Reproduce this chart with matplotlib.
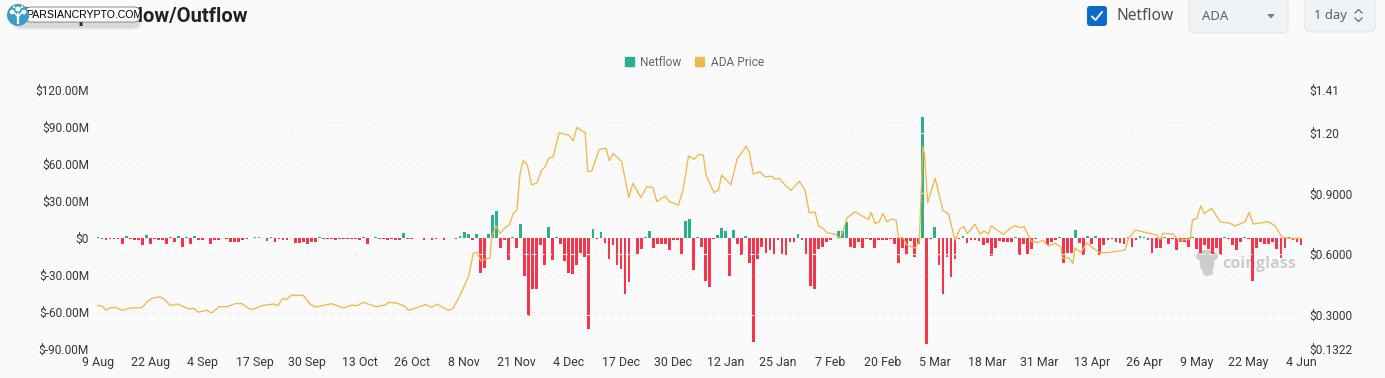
import numpy as np
import matplotlib
matplotlib.use("Agg")
import matplotlib.pyplot as plt
from matplotlib.patches import FancyBboxPatch, Rectangle, Circle, Ellipse, Patch, Polygon

W, H = 1385, 378

tick_dates = ["9 Aug", "22 Aug", "4 Sep", "17 Sep", "30 Sep", "13 Oct", "26 Oct", "8 Nov",
              "21 Nov", "4 Dec", "17 Dec", "30 Dec", "12 Jan", "25 Jan", "7 Feb", "20 Feb",
              "5 Mar", "18 Mar", "31 Mar", "13 Apr", "26 Apr", "9 May", "22 May", "4 Jun"]
left_ticks = [120, 90, 60, 30, 0, -30, -60, -90]
left_labels = ["$120.00M", "$90.00M", "$60.00M", "$30.00M", "$0", "$-30.00M", "$-60.00M", "$-90.00M"]
right_ticks = [1.41, 1.20, 0.90, 0.60, 0.30, 0.1322]
right_labels = ["$1.41", "$1.20", "$0.9000", "$0.6000", "$0.3000", "$0.1322"]

# daily netflow in $M
netflow = [
    1, -0.5, -1.5, -1, -0.5, -0.5, -4.5, 2, -1, -1.5,
    -2, -6, 2.5, -4.5, -1, -1.5, -1.5, -5, 1, -3,
    2, -7, 0.5, -4.5, 1.5, -2, -2, 0.3, -5, -2,
    -2, 0.3, -1, -3, -3, -3.5, -2, -1, 0.2, 1,
    1, -0.3, -2.5, 1, -3, -0.5, -2, -2, 0.3, -4,
    -4, -3, -5, -3.5, -3, 0.8, -1, -1, -0.5, -1.5,
    -0.5, -0.5, -1, -1, -1, -1.5, 1, -4.5, 0.3, 1,
    -0.5, -1, -1.5, -0.5, -2, -2, 4, -1, -0.5, -0.3,
    -0.3, -1.5, -0.3, -1.5, -1, -0.3, -1.5, 0.3, 0.3, -1,
    2, 5, 3.5, -1.5, 3, -28, -24, 3.5, 18.4, 22,
    -8, -1.5, -18, 1, -8, 11.5, -31, -63, -41, -41,
    -6, -22, 9, -18, 1, -5, -19, -28, -29, -22,
    -12, -15, -74, 7, -0.5, 4.5, -4, -17, -6, -22,
    -25, -45, -36, -0.3, -13, -9, 1, 5.5, -8, -5,
    -4.5, -4.5, -10, -1.5, -1.5, -13, 13.5, 15, -26, 0.8,
    -7, -35, -40, -0.8, 2.5, 8, 5.5, -31, 6.5, -5,
    -14, 1.5, -20, -84, -17, -7, -12, -10, -14, -2,
    -14, -13.5, -3, -3.5, 3.5, -2, -14, -39, -41, -9,
    -7, -3, -1.5, -0.3, 6, 6, 13, -7, -8, -3,
    -8, -1, -1.5, -8, -2, -2, -2, -0.5, -5, -20,
    -8, -14, -2.5, -15, -5, 98, -86, -1, 9, -22,
    -45, -15, -32, -17, -1, 2, -4, -2, -1.5, -2.5,
    -6, -4, -14.5, -8, -2.5, -3, -3, -3, 1, -14,
    -5, -13, -9, -1, 0.3, 0.3, -6, -3, -2, 0.5,
    -20, -12, -12, 6.5, -4, -14, 1.5, -5, 1.5, -14,
    -6, -2, -1, -3, -4, -5, 1, -7, -2, 1.5,
    0.8, -2, -12, -8, -8, 0.5, -5, -0.5, -10, -3,
    -3, -7, 0.5, -9, -12, -6, -9, -13, -8, -14,
    0.5, -1, -6, -10, -3, 1, -1, -35, -8, -3,
    -5, -5, -3, -9, -16, -8, 0.5, -2, -3, -6,
]

# price line, read by hand: day index (measured at 4 px a day) and price
price_days = [
    0, 1, 2, 3, 4.3, 6, 8, 11, 12.2, 13.5, 15.5, 16.8, 18, 20, 21.3, 23, 24, 25, 27.2, 28.4,
    30.3, 32.2, 34.3, 36, 38, 39.3, 41, 43.8, 45, 46.2, 47.2, 48.3, 51.3, 53, 54.3, 56.8,
    58.4, 61.3, 63.4, 64.7, 66.3, 69.5, 71.8, 72.6, 74.7, 76.8, 77.6, 80.5, 81.8, 83.4,
    84.7, 87.6, 88.8, 90.5, 92.6, 93.8, 94.7, 95.7, 98, 98.4, 99.5, 100.5, 101.8, 102.8,
    103.8, 104.7, 105.5, 106.3, 107.3, 108.4, 109.7, 110.9, 111.8, 112.6, 113.8, 115.3,
    117.6, 118.8, 119.7, 121.8, 122.4, 123.4, 125.3, 127, 127.8, 128.8, 130.9, 132.7,
    133.7, 135.7, 137.2, 138.7, 139.7, 141.8, 142.8, 145.1, 146.3, 147.6, 149, 150.1,
    151.3, 152, 154, 155.1, 155.9, 158.2, 159.8, 160.5, 162, 162.8, 163.8, 165.5,
    166.75, 168.4, 169.25, 170.3, 171.75, 173.25, 175.3, 176.75, 177.8, 179.25, 180.1,
    181.3, 182.2, 184.25, 185.5, 186.3, 187.3, 189.25, 192.6, 193.25, 194.25, 195.3,
    196.2, 197.2, 198.4, 199.5, 200.1, 201.3, 202.2, 204.25, 205.3, 206.2, 206.6, 207.4,
    209.25, 210, 211.2, 212.6, 214.25, 215.5, 216.5, 217.3, 219.25, 220.5, 221.5, 222.6,
    223.25, 226.3, 228, 229.25, 230.5, 231.5, 232.3, 233.4, 234.7, 236.2, 237.6, 239.25,
    240.7, 241.1, 242.6, 243.7, 244.25, 245.7, 247.2, 248.4, 250.5, 253, 256.75, 257.6,
    259.25, 262.2, 264.7, 265.5, 266.3, 268.8, 270.1, 273, 273.6, 274.7, 275.7, 276.5,
    278.4, 280.5, 283, 284.25, 286.75, 287.75, 288.8, 292.6, 294.25, 295.9, 297.6, 300.9,
]
price_vals = [
    .347, .344, .324, .336, .337, .323, .334, .336, .365, .382, .390, .374, .347, .354, .341, .329, .333, .314, .323, .310,
    .341, .341, .356, .356, .328, .331, .347, .354, .347, .382, .377, .398, .397, .354, .339, .349,
    .356, .334, .349, .346, .362, .341, .349, .362, .359, .341, .323, .341, .352, .337,
    .354, .323, .333, .398, .489, .604, .610, .567, .582, .686, .740, .702, .732, .743,
    .801, .817, .998, 1.064, 1.040, .941, .952, 1.015, 1.031, 1.072, 1.081, 1.199,
    1.188, 1.160, 1.225, 1.199, 1.007, 1.010, 1.117, 1.122, 1.061, 1.097, 1.056, .880,
    .949, .880, .933, .929, .860, .887, .859, .842, .924, 1.084, 1.068, 1.092,
    1.089, .990, .903, .916, .990, .943, 1.072, 1.089, 1.133, 1.105, .995, 1.007,
    .982, .985, .970, .974, .941, .915, .959, .916, .804, .809, .739,
    .727, .706, .699, .678, .719, .781, .809, .771, .806, .752, .760,
    .801, .760, .773, .768, .681, .681, .645, .630, .661, 1.130, 1.097, .854,
    .974, .916, .817, .798, .669, .727, .735, .702, .747, .699, .715, .699,
    .740, .697, .727, .741, .731, .736, .703, .662, .658, .667, .640, .653,
    .637, .579, .583, .555, .629, .609, .657, .634, .607, .609, .620, .678,
    .719, .706, .694, .673, .703, .698, .670, .673, .769, .777, .839, .801,
    .826, .760, .752, .739, .760, .806, .749, .760, .739, .686, .678, .678,
]

BG = "#fafafa"
TEAL = "#2bb08f"
RED = "#f5354c"
AMBER = "#f0b84c"
TXT = "#33363b"

plt.rcParams["font.family"] = ["Roboto", "DejaVu Sans"]

fig = plt.figure(figsize=(W / 100, H / 100), dpi=100, facecolor=BG)


def px_box(x0, y0, x1, y1):
    return [x0 / W, 1 - y1 / H, (x1 - x0) / W, (y1 - y0) / H]


# watermark goes under the chart
under = fig.add_axes([0, 0, 1, 1], zorder=-1)
under.set_xlim(0, W)
under.set_ylim(H, 0)
under.axis("off")
gray = "#cdcdcd"
under.add_patch(Ellipse((1207, 256), 21, 11, color=gray))
under.add_patch(Ellipse((1207, 264), 13, 16, color=gray))
under.add_patch(Ellipse((1208, 272), 9, 7, color=gray))
under.text(1259, 263.5, "coinglass", fontsize=11.6, fontweight="bold", color=gray,
           family="Open Sans", ha="center", va="center")

ax = fig.add_axes(px_box(96, 90, 1303, 349), zorder=1)
ax.patch.set_alpha(0)
x = np.arange(len(netflow))
vals = np.array(netflow)
ax.bar(x, vals, width=0.68, color=[TEAL if v >= 0 else RED for v in vals], zorder=3)
ax.set_xlim(-0.5, 299.5)
ax.set_ylim(-90, 120)
ax.set_yticks(left_ticks)
ax.set_yticklabels(left_labels, fontsize=8.6, color=TXT)
ax.set_xticks(np.arange(0, 300, 13))
ax.set_xticklabels(tick_dates, fontsize=8.9, color=TXT)
ax.tick_params(length=0)
ax.tick_params(axis="y", pad=5)
ax.tick_params(axis="x", pad=5)
ax.grid(axis="y", color="#f1f1f1", linestyle=(0, (4, 3)), linewidth=0.8, zorder=0)
for s in ax.spines.values():
    s.set_visible(False)

ax2 = ax.twinx()
ax2.patch.set_alpha(0)
# the bars sit 4.023 px apart, the price points were measured at 4
ax2.plot(np.array(price_days) * 4 / 4.023, price_vals, color=AMBER, linewidth=0.95,
         solid_joinstyle="round", clip_on=False, zorder=4)
ax2.set_ylim(0.1322, 1.41)
ax2.set_yticks(right_ticks)
ax2.set_yticklabels(right_labels, fontsize=8.6, color=TXT)
ax2.tick_params(length=0, pad=4.5)
ax2.grid(axis="y", color="#f3f3f3", linestyle=(0, (4, 3)), linewidth=0.8)
for s in ax2.spines.values():
    s.set_visible(False)

fig.legend(handles=[Patch(color=TEAL, label="Netflow"), Patch(color=AMBER, label="ADA Price")],
           ncol=2, loc="center", bbox_to_anchor=(694.5 / W, 1 - 62 / H), frameon=False,
           fontsize=8.6, labelcolor="#666666", handlelength=0.75, handleheight=0.8,
           handletextpad=0.55, columnspacing=1.15, borderpad=0)

# page furniture drawn in pixel coordinates
ui = fig.add_axes([0, 0, 1, 1], zorder=10)
ui.set_xlim(0, W)
ui.set_ylim(H, 0)
ui.axis("off")

ui.text(21, 17, "ADA Spot Inflow/Outflow", fontsize=14.5, fontweight="bold", color="#1f2226",
        ha="left", va="center", zorder=0.5)

for k, a in enumerate([0.05, 0.07, 0.09]):
    ui.add_patch(FancyBboxPatch((12 + k, 13 + k), 130 - 2 * k, 17 - 2 * k, boxstyle="round,pad=0,rounding_size=8",
                                fc="#555555", ec="none", alpha=a, zorder=5))
ui.add_patch(FancyBboxPatch((25, 7), 115, 15, boxstyle="round,pad=0,rounding_size=6",
                            fc="white", ec="#777777", lw=0.6, zorder=6))
ui.text(84.5, 15, "PARSIANCRYPTO.COM", fontsize=7.6, color="black", family="Liberation Sans",
        ha="center", va="center", zorder=7)
ui.add_patch(Circle((18, 15), 11, fc="#3a9dc6", ec="none", zorder=7))
ui.plot([18, 18], [14, 23], color="white", lw=1.6, zorder=8)
ui.plot([13, 18, 23], [11, 17, 11], color="white", lw=1.0, zorder=8)
for cx, cy, r in [(18, 9, 2.6), (12, 12, 2.4), (24, 12, 2.4), (14, 7, 1.2), (22, 7, 1.2)]:
    ui.add_patch(Circle((cx, cy), r, fc="white", ec="none", zorder=8))

ui.add_patch(FancyBboxPatch((1087, 6), 20, 20, boxstyle="round,pad=0,rounding_size=3",
                            fc="#0b6bcb", ec="none"))
ui.plot([1092, 1095.5, 1102], [16.5, 20, 12], color="white", lw=1.3)
ui.text(1117, 16.5, "Netflow", fontsize=11.2, color="#4a4d52", ha="left", va="center",
        family="Noto Sans")

ui.add_patch(FancyBboxPatch((1189, -2), 99, 35, boxstyle="round,pad=0,rounding_size=5",
                            fc="#f0f3f5", ec="#dfe8ea", lw=0.8))
ui.text(1202, 16, "ADA", fontsize=9.4, color="#5b5f66", ha="left", va="center", family="Noto Sans")
ui.add_patch(Polygon([[1267, 14], [1275, 14], [1271, 18.5]], fc="#777b80", ec="none"))

ui.add_patch(FancyBboxPatch((1305, -2), 70, 34, boxstyle="round,pad=0,rounding_size=5",
                            fc="#f0f3f5", ec="#dfe8ea", lw=0.8))
ui.text(1314, 16, "1 day", fontsize=9.4, color="#5b5f66", ha="left", va="center", family="Noto Sans")
ui.plot([1355, 1358.5, 1362], [13, 9.5, 13], color="#666a70", lw=0.9)
ui.plot([1355, 1358.5, 1362], [18, 21.5, 18], color="#666a70", lw=0.9)

fig.savefig("out.png", dpi=100, facecolor=BG)
